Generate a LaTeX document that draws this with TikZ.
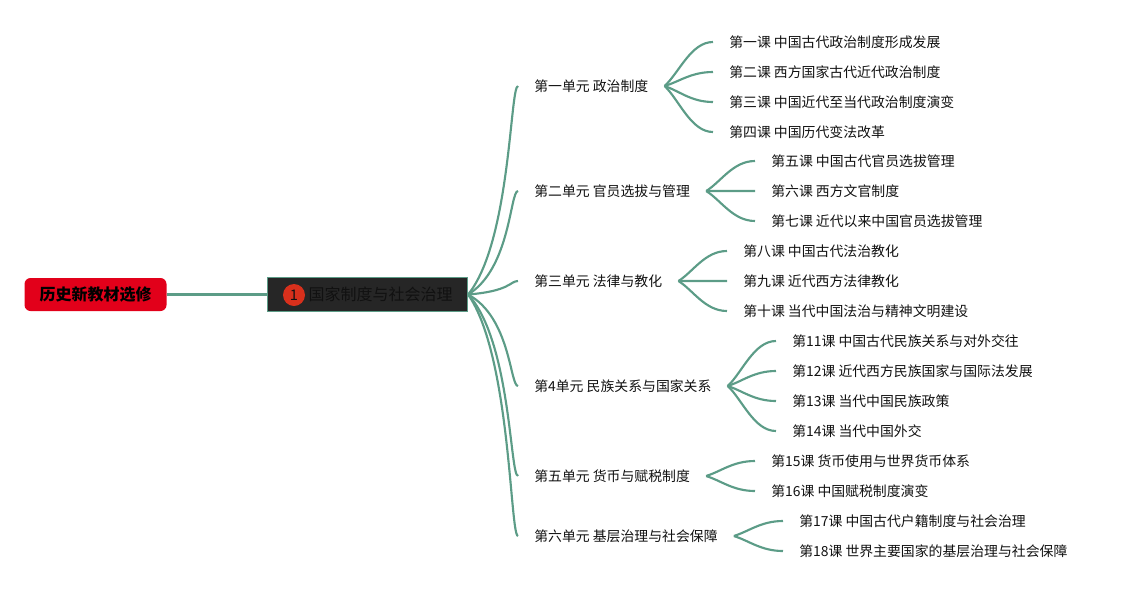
\documentclass[tikz,border=0pt]{standalone}
\usepackage{fontspec}
\setmainfont{Noto Sans CJK SC}
\usetikzlibrary{calc, positioning}
\definecolor{rootred}{HTML}{E2001A}
\definecolor{topicgray}{HTML}{262626}
\definecolor{topictext}{HTML}{111111}
\definecolor{badgered}{HTML}{D8301C}
\definecolor{linkgreen}{HTML}{5C9C87}

\begin{document}
\begin{tikzpicture}[
    x=0.75pt, y=-0.75pt,
    root/.style={rounded corners=4.5pt, fill=rootred, minimum height=24.75pt, inner xsep=11.25pt, font=\fontsize{12}{14}\selectfont\bfseries},
    topic/.style={draw=linkgreen, line width=0.8pt, fill=topicgray, text=topictext, minimum height=26pt, inner xsep=11.25pt, font=\fontsize{12}{14}\selectfont},
    badge/.style={circle, fill=badgered, minimum size=16.5pt, inner sep=0pt, text=topictext, font=\fontsize{11}{12}\selectfont},
    unit/.style={anchor=west, inner xsep=12pt, inner ysep=2pt, text=topictext, font=\fontsize{10.4}{12}\selectfont},
    lesson/.style={unit},
    link/.style={draw=linkgreen, line width=1.6pt},
    branch/.style={link, to path={.. controls ($(\tikztostart)!0.25!(\tikztotarget)+(30,0)$) and ($(\tikztotarget)+(-8,0)$) .. (\tikztotarget)}},
    twig/.style={link, to path={.. controls ($(\tikztostart)!0.3!(\tikztotarget)$) and ($(\tikztotarget)+(-22,0)$) .. (\tikztotarget)}}
]
\useasboundingbox (0,0) rectangle (1129,590);

% Root and topic
\node[root] (root) at (95.5,294.5) {历史新教材选修};
\node[topic, anchor=west] (topic) at (267,294.5) {\hspace*{19.5pt}国家制度与社会治理};
\node[badge] (badge) at (294,295) {1};

% Units
\node[unit] (u1) at (518,86) {第一单元 政治制度};
\node[unit] (u2) at (518,191) {第二单元 官员选拔与管理};
\node[unit] (u3) at (518,281) {第三单元 法律与教化};
\node[unit] (u4) at (518,386) {第4单元 民族关系与国家关系};
\node[unit] (u5) at (518,476) {第五单元 货币与赋税制度};
\node[unit] (u6) at (518,536) {第六单元 基层治理与社会保障};

% Lessons
\node[lesson] (l1) at (713,42) {第一课 中国古代政治制度形成发展};
\node[lesson] (l2) at (713,72) {第二课 西方国家古代近代政治制度};
\node[lesson] (l3) at (713,102) {第三课 中国近代至当代政治制度演变};
\node[lesson] (l4) at (713,132) {第四课 中国历代变法改革};
\node[lesson] (l5) at (755,161) {第五课 中国古代官员选拔管理};
\node[lesson] (l6) at (755,191) {第六课 西方文官制度};
\node[lesson] (l7) at (755,221) {第七课 近代以来中国官员选拔管理};
\node[lesson] (l8) at (727,251) {第八课 中国古代法治教化};
\node[lesson] (l9) at (727,281) {第九课 近代西方法律教化};
\node[lesson] (l10) at (727,311) {第十课 当代中国法治与精神文明建设};
\node[lesson] (l11) at (776,341) {第11课 中国古代民族关系与对外交往};
\node[lesson] (l12) at (776,371) {第12课 近代西方民族国家与国际法发展};
\node[lesson] (l13) at (776,401) {第13课 当代中国民族政策};
\node[lesson] (l14) at (776,431) {第14课 当代中国外交};
\node[lesson] (l15) at (755,461) {第15课 货币使用与世界货币体系};
\node[lesson] (l16) at (755,491) {第16课 中国赋税制度演变};
\node[lesson] (l17) at (783,521) {第17课 中国古代户籍制度与社会治理};
\node[lesson] (l18) at (783,551) {第18课 世界主要国家的基层治理与社会保障};

% Connectors
\draw[link] (root.east) -- (topic.west);
\draw[branch] (topic.east) to (u1.west);
\draw[branch] (topic.east) to (u2.west);
\draw[branch] (topic.east) to (u3.west);
\draw[branch] (topic.east) to (u4.west);
\draw[branch] (topic.east) to (u5.west);
\draw[branch] (topic.east) to (u6.west);
\draw[twig] (u1.east) to (l1.west);
\draw[twig] (u1.east) to (l2.west);
\draw[twig] (u1.east) to (l3.west);
\draw[twig] (u1.east) to (l4.west);
\draw[twig] (u2.east) to (l5.west);
\draw[twig] (u2.east) to (l6.west);
\draw[twig] (u2.east) to (l7.west);
\draw[twig] (u3.east) to (l8.west);
\draw[twig] (u3.east) to (l9.west);
\draw[twig] (u3.east) to (l10.west);
\draw[twig] (u4.east) to (l11.west);
\draw[twig] (u4.east) to (l12.west);
\draw[twig] (u4.east) to (l13.west);
\draw[twig] (u4.east) to (l14.west);
\draw[twig] (u5.east) to (l15.west);
\draw[twig] (u5.east) to (l16.west);
\draw[twig] (u6.east) to (l17.west);
\draw[twig] (u6.east) to (l18.west);

\end{tikzpicture}
\end{document}
